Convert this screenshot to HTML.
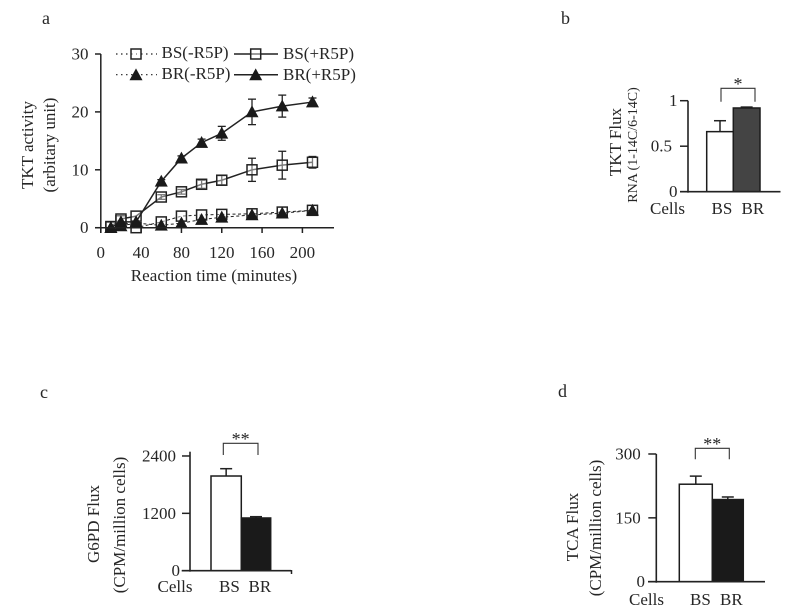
<!DOCTYPE html>
<html lang="en">
<head>
<meta charset="utf-8">
<title>Flux charts</title>
<style>
html,body{margin:0;padding:0;background:#fff;}
svg{display:block;width:800px;height:616px;}
text{font-family:"Liberation Serif",serif;font-size:17px;fill:#262626;}
.stars{font-size:18px;}
.panel{font-size:18px;}
</style>
</head>
<body>
<svg id="figure" xmlns="http://www.w3.org/2000/svg" width="800" height="616" viewBox="0 0 800 616">
  <rect width="800" height="616" fill="#fff"/>
  <text class="panel" x="42" y="24">a</text>
  <text class="panel" x="561" y="24">b</text>
  <text class="panel" x="40" y="398">c</text>
  <text class="panel" x="558" y="397">d</text>
  <text text-anchor="middle" transform="translate(33,145) rotate(-90)">TKT activity</text>
  <text text-anchor="middle" transform="translate(55,145) rotate(-90)">(arbitary unit)</text>
  <text text-anchor="middle" style="letter-spacing:.1px" x="214" y="281">Reaction time (minutes)</text>
  <text text-anchor="middle" transform="translate(621,142) rotate(-90)">TKT Flux</text>
  <text text-anchor="middle" style="font-size:14px" transform="translate(637,145) rotate(-90)">RNA (1-14C/6-14C)</text>
  <text text-anchor="middle" transform="translate(99,524) rotate(-90)">G6PD Flux</text>
  <text text-anchor="middle" transform="translate(125,525) rotate(-90)">(CPM/million cells)</text>
  <text text-anchor="middle" transform="translate(578,527) rotate(-90)">TCA Flux</text>
  <text text-anchor="middle" transform="translate(601,528) rotate(-90)">(CPM/million cells)</text>
</svg>
<script>
const lineTimes = [10, 20, 35, 60, 80, 100, 120, 150, 180, 210];
const xTickValues = [0, 40, 80, 120, 160, 200];
const yTickValuesA = [0, 10, 20, 30];
const brPlus = [0, 1, 1, 8, 12, 14.7, 16.3, 20, 21, 21.7];
const brPlusErr = [0, 0, 0, 0.3, 0.4, 0.6, 1.2, 2.2, 1.9, 0.7];
const bsPlus = [0.2, 1.5, 2, 5.3, 6.2, 7.5, 8.2, 10, 10.8, 11.3];
const bsPlusErr = [0, 0, 0, 0.4, 0.4, 0.7, 0.8, 2, 2.4, 1];
const bsMinus = [0.1, 1.2, 0, 1, 2, 2.2, 2.3, 2.4, 2.7, 3];
const brMinus = [0, 0.3, 0.8, 0.4, 0.8, 1.4, 1.8, 2.2, 2.5, 3];

const barCategories = ['BS', 'BR'];
const tktValues = [0.66, 0.92];
const tktErrors = [0.12, 0.01];
const tktTicks = [0, 0.5, 1];
const g6pdValues = [1981, 1103];
const g6pdErrors = [153, 27];
const g6pdTicks = [0, 1200, 2400];
const tcaValues = [229, 193];
const tcaErrors = [19, 6];
const tcaTicks = [0, 150, 300];

const svg = document.getElementById('figure');
const NS = 'http://www.w3.org/2000/svg';
const INK = '#222';

function mk(tag, attrs, text) {
  const el = document.createElementNS(NS, tag);
  for (const k in attrs) el.setAttribute(k, attrs[k]);
  if (text !== undefined) el.textContent = text;
  svg.appendChild(el);
  return el;
}
function seg(x1, y1, x2, y2, w, name, dash) {
  const el = mk('line', {x1: x1, y1: y1, x2: x2, y2: y2, stroke: INK, 'stroke-width': w});
  if (dash) el.setAttribute('stroke-dasharray', dash);
  
  
  return el;
}
function label(x, y, anchor, str, name) {
  const el = mk('text', {x: x, y: y, 'text-anchor': anchor}, str);
  
  
  return el;
}
function square(x, y, name) {
  const el = mk('rect', {x: x - 5, y: y - 5, width: 10, height: 10, fill: '#fff', 'fill-opacity': 0.4, stroke: INK, 'stroke-width': 1.5});
  
  
}
function triangle(x, y, name) {
  const el = mk('polygon', {points: (x - 6) + ',' + (y + 5) + ' ' + (x + 6) + ',' + (y + 5) + ' ' + x + ',' + (y - 6), fill: '#1a1a1a', stroke: '#1a1a1a', 'stroke-width': 0.6});
  
  
}

/* panel a */
const xA = function (v) { return 100.8 + v * 1.008; };
const yA = function (v) { return 227.7 - v * 5.79; };

function drawSeries(values, errors, marker, solid, name) {
  const pts = values.map(function (v, i) { return xA(lineTimes[i]) + ',' + yA(v); }).join(' ');
  const line = mk('polyline', {points: pts, fill: 'none', stroke: INK, 'stroke-width': solid ? 1.5 : 1});
  if (!solid) line.setAttribute('stroke-dasharray', '3 2.5');
  
  
  values.forEach(function (v, i) {
    const x = xA(lineTimes[i]);
    if (errors && errors[i] > 0) {
      seg(x, yA(v + errors[i]), x, yA(v - errors[i]), 1.3, name + '-error');
      seg(x - 4, yA(v + errors[i]), x + 4, yA(v + errors[i]), 1.3, name + '-error-cap');
      seg(x - 4, yA(v - errors[i]), x + 4, yA(v - errors[i]), 1.3, name + '-error-cap');
    }
    marker(x, yA(v), name + '-point');
  });
}
drawSeries(bsMinus, null, square, false, 'bs-minus-r5p');
drawSeries(bsPlus, bsPlusErr, square, true, 'bs-plus-r5p');
drawSeries(brMinus, null, triangle, false, 'br-minus-r5p');
drawSeries(brPlus, brPlusErr, triangle, true, 'br-plus-r5p');

seg(100.8, yA(30), 100.8, 233, 1.5, 'panel-a-y-axis');
seg(95, yA(0), 334, yA(0), 1.5, 'panel-a-x-axis');
yTickValuesA.forEach(function (v) {
  seg(95, yA(v), 100.8, yA(v), 1.5, 'panel-a-y-tick');
  label(88.5, yA(v) + 5.5, 'end', String(v), 'panel-a-y-tick-label');
});
xTickValues.forEach(function (v) {
  seg(xA(v), yA(0), xA(v), 233, 1.5, 'panel-a-x-tick');
  label(xA(v), 258, 'middle', String(v), 'panel-a-x-tick-label');
});

/* legend */
seg(116, 54, 137, 54, 1.2, 'legend-bs-minus-line', '1.5 3.5');
square(136, 54, 'legend-bs-minus-marker');
seg(141, 54, 157, 54, 1.2, 'legend-bs-minus-line', '1.5 3.5');
label(161.5, 58, 'start', 'BS(-R5P)', 'legend-bs-minus-label');
seg(234, 54, 278, 54, 1.5, 'legend-bs-plus-line');
square(255.7, 54, 'legend-bs-plus-marker');
label(283, 59, 'start', 'BS(+R5P)', 'legend-bs-plus-label');
seg(116, 74.7, 157, 74.7, 1.2, 'legend-br-minus-line', '1.5 3.5');
triangle(136, 75, 'legend-br-minus-marker');
label(161.5, 79, 'start', 'BR(-R5P)', 'legend-br-minus-label');
seg(234, 74.7, 278, 74.7, 1.5, 'legend-br-plus-line');
triangle(255.7, 75, 'legend-br-plus-marker');
label(283, 80, 'start', 'BR(+R5P)', 'legend-br-plus-label');

/* bar panels */
function barPanel(p) {
  const y = function (v) { return p.y0 - v * p.scale; };
  p.values.forEach(function (v, i) {
    const x0 = p.barEdges[i];
    const x1 = p.barEdges[i + 1];
    const mid = (x0 + x1) / 2;
    const top = y(v + p.errors[i]);
    seg(mid, top, mid, y(v), 1.5, p.name + '-error-' + barCategories[i].toLowerCase());
    seg(mid - 6, top, mid + 6, top, 1.5, p.name + '-error-cap-' + barCategories[i].toLowerCase());
    const bar = mk('rect', {x: x0, y: y(v), width: x1 - x0, height: y(0) - y(v), fill: i === 0 ? '#fff' : p.fill, stroke: '#1c1c1c', 'stroke-width': 1.5});
    
    
  });
  seg(p.axisX, p.axisTop, p.axisX, p.y0 + 1, 1.6, p.name + '-y-axis');
  seg(p.xStart, p.y0, p.xEnd, p.y0, 1.6, p.name + '-x-axis');
  p.ticks.forEach(function (t, i) {
    seg(p.axisX - 8, y(t), p.axisX, y(t), 1.5, p.name + '-y-tick');
    label(p.tickRights[i], y(t) + 5.5, 'end', String(t), p.name + '-y-tick-label');
  });
  label(p.cellsX, p.labelY, 'start', 'Cells', p.name + '-cells-label');
  barCategories.forEach(function (c, i) {
    label(p.catX[i], p.labelY, 'start', c, p.name + '-category-' + c.toLowerCase());
  });
  const b = p.bracket;
  const path = mk('path', {d: 'M' + b[0] + ' ' + b[3] + 'V' + b[2] + 'H' + b[1] + 'V' + b[3], fill: 'none', stroke: '#333', 'stroke-width': 1.1});
  
  
  const star = label((b[0] + b[1]) / 2, b[2] + 1.5, 'middle', p.stars, p.name + '-significance-stars');
  star.setAttribute('class', 'stars');
}

barPanel({name: 'panel-b', values: tktValues, errors: tktErrors, ticks: tktTicks, y0: 191.7, scale: 91,
  barEdges: [706.7, 733.3, 760], fill: '#444', axisX: 688, axisTop: 100.7, xStart: 680, xEnd: 780.5,
  tickRights: [677.5, 672, 677.5], cellsX: 650, labelY: 214, catX: [711.5, 741.5],
  bracket: [721, 755, 88.3, 101.7], stars: '*'});

barPanel({name: 'panel-c', values: g6pdValues, errors: g6pdErrors, ticks: g6pdTicks, y0: 570.7, scale: 0.0478,
  barEdges: [211, 241.3, 270.7], fill: '#1a1a1a', axisX: 190, axisTop: 451.7, xStart: 181.7, xEnd: 291,
  tickRights: [180, 176, 176], cellsX: 157.5, labelY: 592, catX: [219, 248.5],
  bracket: [223.3, 258, 443.3, 455], stars: '**'});
seg(291.5, 570, 291.5, 574, 1.5, 'panel-c-x-axis-end-tick');

barPanel({name: 'panel-d', values: tcaValues, errors: tcaErrors, ticks: tcaTicks, y0: 581.7, scale: 0.4257,
  barEdges: [679.3, 712.3, 743.3], fill: '#1a1a1a', axisX: 656.3, axisTop: 454, xStart: 648, xEnd: 765,
  tickRights: [645, 640.7, 640.7], cellsX: 629, labelY: 605, catX: [690, 720],
  bracket: [695.3, 729.3, 448.3, 459.3], stars: '**'});
</script>
</body>
</html>
